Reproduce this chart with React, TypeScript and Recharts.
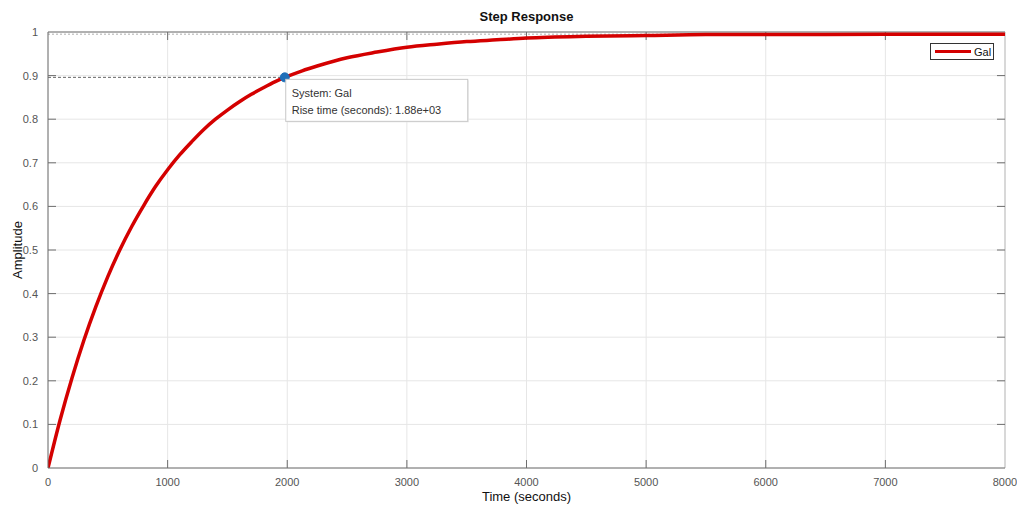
import { LineChart, Line, XAxis, YAxis, CartesianGrid, ReferenceLine, ReferenceDot } from 'recharts';

// step response samples
const times = [0, 100, 200, 300, 400, 500, 600, 700, 800, 900, 1000, 1100, 1200, 1300, 1400, 1500, 1600, 1700, 1800, 1900, 2000, 2125, 2250, 2500, 2750, 3000, 3250, 3500, 3750, 4000, 4500, 5000, 5500, 6000, 7000, 8000];
const amplitude = [0, 0.109, 0.206, 0.293, 0.37, 0.439, 0.5, 0.554, 0.602, 0.646, 0.684, 0.718, 0.748, 0.776, 0.8, 0.821, 0.84, 0.857, 0.872, 0.886, 0.898, 0.911, 0.922, 0.941, 0.954, 0.965, 0.972, 0.978, 0.982, 0.986, 0.99, 0.992, 0.994, 0.994, 0.995, 0.995];

const xTicks = [0, 1000, 2000, 3000, 4000, 5000, 6000, 7000, 8000];
const yTicks = [0, 0.1, 0.2, 0.3, 0.4, 0.5, 0.6, 0.7, 0.8, 0.9, 1];
const yTickLabels = ['0', '0.1', '0.2', '0.3', '0.4', '0.5', '0.6', '0.7', '0.8', '0.9', '1'];

const steadyState = 0.995;
const riseMarker = { time: 1979, value: 0.896 };
const riseLabel = ['System: Gal', 'Rise time (seconds): 1.88e+03'];
const seriesName = 'Gal';

const data = times.map((t, i) => ({ time: t, amp: amplitude[i] }));

const FONT = '"Liberation Sans", Arial, Helvetica, sans-serif';
const AXIS = '#6e6e6e';

function RiseLabel(props: any) {
  const vb = props.viewBox || {};
  const cx = vb.x + vb.width / 2;
  const cy = vb.y + vb.height / 2;
  const x = cx + 1;
  const y = cy + 2;
  return (
    <g>
      <rect x={x + 1} y={y + 1} width={182} height={42} fill="#e8e8e8" />
      <rect x={x} y={y} width={182} height={42} fill="#ffffff" stroke="#c8c8c8" strokeWidth={1} />
      <text x={x + 6} y={y + 18} fontSize={11} fill="#333" fontFamily={FONT}>{riseLabel[0]}</text>
      <text x={x + 6} y={y + 35} fontSize={11} fill="#333" fontFamily={FONT}>{riseLabel[1]}</text>
    </g>
  );
}

export default function App() {
  const xTickLen = 8000 * (8 / 956);
  const yTickLen = 1 * (8 / 436);
  return (
    <div style={{ position: 'absolute', left: 0, top: 0, width: 1017, height: 508, background: '#fff' }}>
      <LineChart width={1017} height={508} data={data} margin={{ top: 32, right: 12, bottom: 10, left: 8 }} style={{ position: 'absolute', left: 0, top: 0 }}>
        <CartesianGrid stroke="#e6e6e6" horizontalValues={yTicks} verticalValues={xTicks} />
        <XAxis
          dataKey="time"
          type="number"
          domain={[0, 8000]}
          ticks={xTicks}
          allowDataOverflow
          height={30}
          tickLine={false}
          tickMargin={4}
          stroke={AXIS}
          tick={{ fill: '#555', fontSize: 11, fontFamily: FONT }}
        />
        <YAxis
          type="number"
          domain={[0, 1]}
          ticks={yTicks}
          allowDataOverflow
          width={40}
          tickLine={false}
          tickMargin={4}
          stroke={AXIS}
          tickFormatter={(v: number) => yTickLabels[yTicks.indexOf(v)] ?? String(v)}
          tick={{ fill: '#555', fontSize: 11, fontFamily: FONT }}
        />
        {/* box */}
        <ReferenceLine y={1} stroke={AXIS} strokeWidth={1} />
        <ReferenceLine x={8000} stroke="#bdbdbd" strokeWidth={1} />
        {/* inward ticks */}
        {xTicks.slice(1, -1).map(t => (
          <ReferenceLine key={'xb' + t} segment={[{ x: t, y: 0 }, { x: t, y: yTickLen }]} stroke={AXIS} />
        ))}
        {xTicks.slice(1, -1).map(t => (
          <ReferenceLine key={'xt' + t} segment={[{ x: t, y: 1 }, { x: t, y: 1 - yTickLen }]} stroke={AXIS} />
        ))}
        {yTicks.slice(1, -1).map(v => (
          <ReferenceLine key={'yl' + v} segment={[{ x: 0, y: v }, { x: xTickLen, y: v }]} stroke={AXIS} />
        ))}
        {yTicks.slice(1, -1).map(v => (
          <ReferenceLine key={'yr' + v} segment={[{ x: 8000, y: v }, { x: 8000 - xTickLen, y: v }]} stroke={AXIS} />
        ))}
        {/* steady state and rise time guides */}
        <ReferenceLine y={steadyState} stroke="#b0b0b0" strokeDasharray="2 2" />
        <ReferenceLine segment={[{ x: 0, y: riseMarker.value }, { x: riseMarker.time, y: riseMarker.value }]} stroke="#666" strokeDasharray="3 2" />
        <Line
          type="monotone"
          dataKey="amp"
          name={seriesName}
          stroke="#d40000"
          strokeWidth={3.5}
          dot={false}
          activeDot={false}
          isAnimationActive={false}
        />
        <ReferenceDot x={riseMarker.time} y={riseMarker.value} r={4.5} fill="#1f6fb8" stroke="#1f6fb8" label={<RiseLabel />} />
      </LineChart>
      <div style={{ position: 'absolute', left: 0, width: 1053, top: 9, textAlign: 'center', fontFamily: FONT, fontWeight: 'bold', fontSize: 13, color: '#111' }}>
        Step Response
      </div>
      <div style={{ position: 'absolute', left: 0, width: 1053, top: 489, textAlign: 'center', fontFamily: FONT, fontSize: 13, color: '#111' }}>
        Time (seconds)
      </div>
      <div style={{ position: 'absolute', left: 17, top: 250, transform: 'translate(-50%, -50%) rotate(-90deg)', fontFamily: FONT, fontSize: 13, color: '#111', whiteSpace: 'nowrap' }}>
        Amplitude
      </div>
      <div style={{ position: 'absolute', left: 930, top: 43, border: '1px solid #333', background: '#fff', width: 62, height: 15, display: 'flex', alignItems: 'center', fontFamily: FONT, fontSize: 11, color: '#111' }}>
        <div style={{ width: 36, height: 3, background: '#d40000', marginLeft: 4, marginRight: 3 }} />
        <span>{seriesName}</span>
      </div>
    </div>
  );
}
